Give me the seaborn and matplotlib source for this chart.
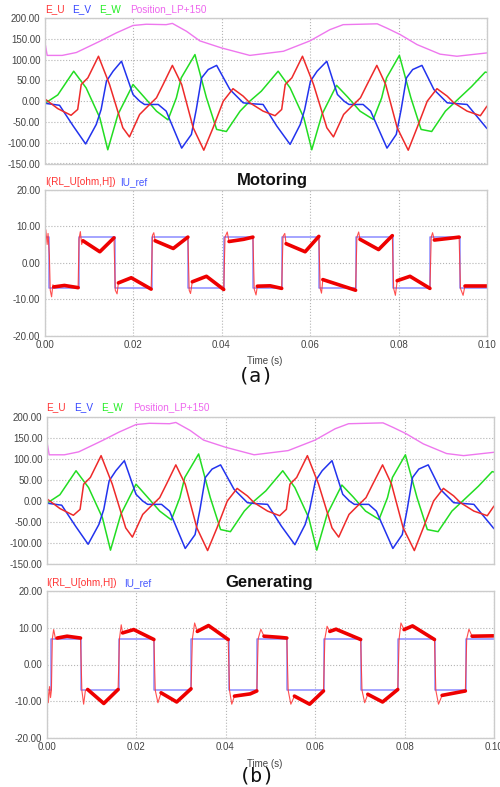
import matplotlib
matplotlib.use("Agg")
import matplotlib.pyplot as plt
import matplotlib.ticker as mticker
import pandas as pd
import seaborn as sns

W, H = 500, 787

# ---- back-EMF and rotor position (same in both cases) ----
eu_t = [0, 0.003, 0.006, 0.0075, 0.0083, 0.0098, 0.0122, 0.0147, 0.0177, 0.0192,
        0.0215, 0.023, 0.0253, 0.0268, 0.0289, 0.031, 0.0336, 0.036, 0.0381, 0.0404,
        0.0426, 0.0449, 0.0464, 0.0494, 0.0521, 0.0536, 0.0544, 0.0559, 0.0583, 0.0608,
        0.0638, 0.0653, 0.0676, 0.0691, 0.0714, 0.0729, 0.0751, 0.0771, 0.0797, 0.0822,
        0.0842, 0.0865, 0.0887, 0.0910, 0.0925, 0.0955, 0.0985, 0.1]
eu = [6, -18, -34, -20, 40, 56, 108, 40, -64, -86,
      -32, -16, 8, 40, 86, 40, -64, -118, -64, 0,
      30, 12, -4, -24, -35, -20, 40, 56, 108, 40,
      -64, -86, -32, -16, 8, 40, 86, 40, -64, -118,
      -64, 0, 30, 12, -4, -24, -35, -12]

ev_t = [0, 0.0034, 0.0065, 0.0093, 0.0117, 0.0128, 0.014, 0.0155, 0.0174, 0.02,
        0.0215, 0.0226, 0.0257, 0.0275, 0.031, 0.0332, 0.0343, 0.0355, 0.037, 0.0389,
        0.0419, 0.0449, 0.0465, 0.0494, 0.0525, 0.0555, 0.0578, 0.0588, 0.0601, 0.0616,
        0.0638, 0.0662, 0.0677, 0.0688, 0.0720, 0.0737, 0.0774, 0.0795, 0.0806, 0.0818,
        0.0832, 0.0853, 0.0880, 0.0910, 0.0955, 0.1]
ev = [-5, -10, -60, -103, -56, -20, 48, 72, 96, 16,
      0, -8, -8, -24, -113, -80, -20, 56, 76, 86,
      28, -4, -6, -8, -60, -104, -56, -20, 48, 72,
      96, 16, 0, -8, -8, -24, -113, -80, -20, 56,
      76, 86, 28, -4, -8, -66]

ew_t = [0, 0.003, 0.0066, 0.0094, 0.0125, 0.0143, 0.0166, 0.02, 0.0225, 0.0253,
        0.0279, 0.0298, 0.0309, 0.034, 0.0366, 0.0389, 0.0411, 0.0442, 0.0464, 0.049,
        0.0528, 0.0555, 0.0586, 0.0604, 0.0627, 0.066, 0.0685, 0.0713, 0.0743, 0.0762,
        0.0773, 0.0802, 0.0828, 0.0851, 0.0875, 0.0906, 0.093, 0.0965, 0.0996, 0.1]
ew = [-6, 15, 72, 32, -40, -117, -32, 40, 10, -24,
      -45, 8, 56, 112, 8, -68, -73, -24, 0, 24,
      72, 32, -40, -117, -32, 38, 10, -24, -44, 8,
      56, 110, 8, -68, -73, -24, 0, 35, 70, 69]

pos_t = [0, 0.0006, 0.004, 0.0072, 0.0125, 0.0162, 0.02, 0.023, 0.0275, 0.0289,
         0.0321, 0.0351, 0.040, 0.0464, 0.054, 0.06, 0.0645, 0.0675, 0.0752, 0.0775,
         0.0804, 0.0842, 0.0894, 0.0932, 0.1]
pos = [148, 110, 110, 117, 144, 164, 182, 185, 184, 187,
       168, 145, 128, 110, 120, 145, 172, 184, 186, 175,
       160, 136, 113, 108, 116]

# ---- phase current (seg > 0 marks the thick ripple band) ----
cur_a_t = [0.0, 0.0003, 0.0006, 0.0008, 0.0011, 0.0013, 0.0016, 0.0019, 0.0021, 0.0045,
           0.0076, 0.0078, 0.0081, 0.0084, 0.0087, 0.0125, 0.0157, 0.0160, 0.0164, 0.0167,
           0.0196, 0.0241, 0.0244, 0.0247, 0.0250, 0.0291, 0.0324, 0.0327, 0.0330, 0.0334,
           0.0366, 0.0405, 0.0408, 0.0413, 0.0417, 0.0450, 0.0471, 0.0474, 0.0478, 0.0481,
           0.0510, 0.0536, 0.0539, 0.0543, 0.0546, 0.0589, 0.0620, 0.0623, 0.0626, 0.0629,
           0.0703, 0.0706, 0.0710, 0.0713, 0.0755, 0.0786, 0.0789, 0.0793, 0.0797, 0.0826,
           0.0871, 0.0874, 0.0877, 0.0881, 0.0910, 0.0937, 0.0940, 0.0946, 0.0950, 0.1]
cur_a = [-0.5, 9.0, 5.0, 8.0, 2.0, -7.5, -9.3, -6.0, -6.6, -6.2,
         -6.8, 6.5, 8.5, 5.0, 6.0, 3.0, 6.8, -7.5, -8.5, -5.5,
         -4.1, -7.2, 7.5, 8.2, 6.0, 3.9, 7.0, -7.5, -8.4, -5.2,
         -3.7, -7.3, 7.0, 8.4, 5.8, 6.4, 7.0, -7.2, -8.8, -6.4,
         -6.3, -7.0, 7.2, 8.0, 5.2, 3.0, 7.2, -7.0, -8.3, -4.6,
         -7.5, 7.0, 8.4, 6.4, 3.6, 7.4, -7.0, -8.9, -4.9, -3.7,
         -7.0, 7.0, 8.2, 6.2, 6.6, 7.0, -7.0, -8.9, -6.4, -6.4]
cur_a_seg = [0, 0, 0, 0, 0, 0, 0, 0, 1, 1,
             1, 0, 0, 0, 2, 2, 2, 0, 0, 3,
             3, 3, 0, 0, 4, 4, 4, 0, 0, 5,
             5, 5, 0, 0, 6, 6, 6, 0, 0, 7,
             7, 7, 0, 0, 8, 8, 8, 0, 0, 9,
             9, 0, 0, 10, 10, 10, 0, 0, 11, 11,
             11, 0, 0, 12, 12, 12, 0, 0, 13, 13]

cur_b_t = [0.0, 0.0004, 0.0007, 0.0009, 0.0011, 0.0013, 0.0016, 0.0020, 0.0024, 0.0046,
           0.0076, 0.0079, 0.0083, 0.0087, 0.0092, 0.0128, 0.0160, 0.0163, 0.0167, 0.0170,
           0.0195, 0.0240, 0.0243, 0.0249, 0.0256, 0.0291, 0.0323, 0.0326, 0.0331, 0.0337,
           0.0362, 0.0406, 0.0409, 0.0414, 0.0420, 0.0455, 0.0470, 0.0473, 0.0479, 0.0486,
           0.0520, 0.0537, 0.0540, 0.0546, 0.0554, 0.0588, 0.0619, 0.0622, 0.0627, 0.0633,
           0.0647, 0.0702, 0.0705, 0.0711, 0.0718, 0.0751, 0.0785, 0.0788, 0.0792, 0.0799,
           0.0818, 0.0867, 0.0870, 0.0876, 0.0884, 0.0910, 0.0936, 0.0939, 0.0944, 0.0951,
           0.1]
cur_b = [0.0, -10.4, -6.0, -9.0, -7.0, 7.0, 9.5, 7.0, 7.2, 7.7,
         7.2, -7.0, -10.8, -7.0, -6.8, -10.6, -6.8, 7.0, 10.8, 8.6,
         9.5, 6.8, -7.0, -10.4, -7.7, -10.2, -6.6, 7.0, 11.3, 9.0,
         10.6, 6.8, -7.0, -10.8, -8.6, -8.0, -7.2, 7.0, 9.6, 7.7,
         7.4, 7.2, -7.0, -10.8, -8.6, -10.8, -7.2, 7.0, 10.4, 9.0,
         9.6, 6.8, -7.0, -10.4, -8.1, -10.2, -6.8, 7.0, 11.3, 9.5,
         10.5, 6.8, -7.0, -10.8, -8.4, -7.8, -7.2, 7.0, 9.6, 7.7,
         7.8]
cur_b_seg = [0, 0, 0, 0, 0, 0, 0, 0, 1, 1,
             1, 0, 0, 0, 2, 2, 2, 0, 0, 3,
             3, 3, 0, 0, 4, 4, 4, 0, 0, 5,
             5, 5, 0, 0, 6, 6, 6, 0, 0, 7,
             7, 7, 0, 0, 8, 8, 8, 0, 0, 9,
             9, 9, 0, 0, 10, 10, 10, 0, 0, 11,
             11, 11, 0, 0, 12, 12, 12, 0, 0, 13,
             13]

# ---- current reference (square wave, switching instants) ----
ref_a_t = [0, 0.0002, 0.0011, 0.0078, 0.0159, 0.0242, 0.0325, 0.0406, 0.0472, 0.0537,
           0.0620, 0.0704, 0.0787, 0.0872, 0.0938, 0.1]
ref_a = [0, 7, -7, 7, -7, 7, -7, 7, -7, 7, -7, 7, -7, 7, -7, -7]
ref_b_t = [0, 0.0002, 0.0011, 0.0077, 0.0161, 0.0241, 0.0324, 0.0407, 0.0471, 0.0538,
           0.0620, 0.0703, 0.0786, 0.0868, 0.0937, 0.1]
ref_b = [0, -7, 7, -7, 7, -7, 7, -7, 7, -7, 7, -7, 7, -7, 7, 7]

t_ticks = [0.0, 0.02, 0.04, 0.06, 0.08, 0.10]
emf_ticks = [-150, -100, -50, 0, 50, 100, 150, 200]
cur_ticks = [-20, -10, 0, 10, 20]

sns.set_style("white")
plt.rcParams['font.family'] = ['Liberation Sans', 'DejaVu Sans']

fig = plt.figure(figsize=(W / 100, H / 100), dpi=100)


def px_axes(x0, y0, x1, y1):
    return fig.add_axes([x0 / W, 1 - y1 / H, (x1 - x0) / W, (y1 - y0) / H])


def style(ax, yticks, xlabels):
    ax.set_xlim(0, 0.1)
    ax.set_ylim(yticks[0], yticks[-1])
    ax.set_xticks(t_ticks)
    ax.set_yticks(yticks)
    ax.xaxis.set_major_formatter(mticker.FuncFormatter(lambda v, p: f"{v:.2f}"))
    ax.yaxis.set_major_formatter(mticker.FuncFormatter(lambda v, p: f"{v:.2f}"))
    ax.grid(True, linestyle=':', color='#b4b4b4', linewidth=0.8)
    for s in ax.spines.values():
        s.set_color('#cccccc')
        s.set_linewidth(1.0)
    ax.tick_params(length=0, labelsize=7, colors='#444444', pad=3,
                   labelbottom=xlabels)
    ax.set_xlabel('')
    ax.set_ylabel('')


def draw_emf(ax):
    sns.lineplot(x=pos_t, y=pos, ax=ax, color='#ee77ee', lw=1.0, sort=False, estimator=None)
    sns.lineplot(x=ew_t, y=ew, ax=ax, color='#22dd22', lw=1.1, sort=False, estimator=None)
    sns.lineplot(x=ev_t, y=ev, ax=ax, color='#2233ee', lw=1.1, sort=False, estimator=None)
    sns.lineplot(x=eu_t, y=eu, ax=ax, color='#ee2a2a', lw=1.1, sort=False, estimator=None)
    style(ax, emf_ticks, False)


def draw_cur(ax, ct, cv, cs, rt, rv):
    df = pd.DataFrame({'t': ct, 'v': cv, 'seg': cs})
    sns.lineplot(x=rt, y=rv, ax=ax, color='#8c8cff', lw=1.1, sort=False,
                 estimator=None, drawstyle='steps-post')
    sns.lineplot(data=df, x='t', y='v', ax=ax, color='#ff3030', lw=0.8,
                 sort=False, estimator=None, alpha=0.85)
    band = df[df['seg'] > 0]
    sns.lineplot(data=band, x='t', y='v', units='seg', ax=ax, color='#ee0000',
                 lw=2.6, sort=False, estimator=None)
    style(ax, cur_ticks, True)


ax1 = px_axes(44.5, 18, 487, 163.5)
draw_emf(ax1)
ax2 = px_axes(44.5, 189.5, 487, 336)
draw_cur(ax2, cur_a_t, cur_a, cur_a_seg, ref_a_t, ref_a)
ax3 = px_axes(46.5, 417, 494, 564)
draw_emf(ax3)
ax4 = px_axes(46.5, 591, 494, 738)
draw_cur(ax4, cur_b_t, cur_b, cur_b_seg, ref_b_t, ref_b)


def ftext(x, y, s, **kw):
    fig.text(x / W, 1 - y / H, s, va='center', **kw)


for y0, xs in [(9, [45, 72, 99, 130]), (407, [46, 74, 101, 133])]:
    for x0, lab, c in zip(xs, ['E_U', 'E_V', 'E_W', 'Position_LP+150'],
                          ['#ff3333', '#3344ff', '#22ee22', '#ee66ee']):
        ftext(x0, y0, lab, color=c, fontsize=7.2)

for y0, xs in [(182, [45, 120]), (583, [46, 124])]:
    ftext(xs[0], y0, 'I(RL_U[ohm,H])', color='#ff3333', fontsize=7.2)
    ftext(xs[1], y0, 'IU_ref', color='#4455ff', fontsize=7.2)

ftext(272, 181, 'Motoring', ha='center', fontsize=12, fontweight='bold', color='#111111')
ftext(269, 582, 'Generating', ha='center', fontsize=12, fontweight='bold', color='#111111')
ftext(265, 361, 'Time (s)', ha='center', fontsize=7, color='#444444')
ftext(265, 764, 'Time (s)', ha='center', fontsize=7, color='#444444')
ftext(256, 376, '(a)', ha='center', fontsize=14.5, family=['DejaVu Sans Mono'], color='#111111')
ftext(257, 776, '(b)', ha='center', fontsize=14.5, family=['DejaVu Sans Mono'], color='#111111')

fig.savefig('out.png', dpi=100, facecolor='white')
